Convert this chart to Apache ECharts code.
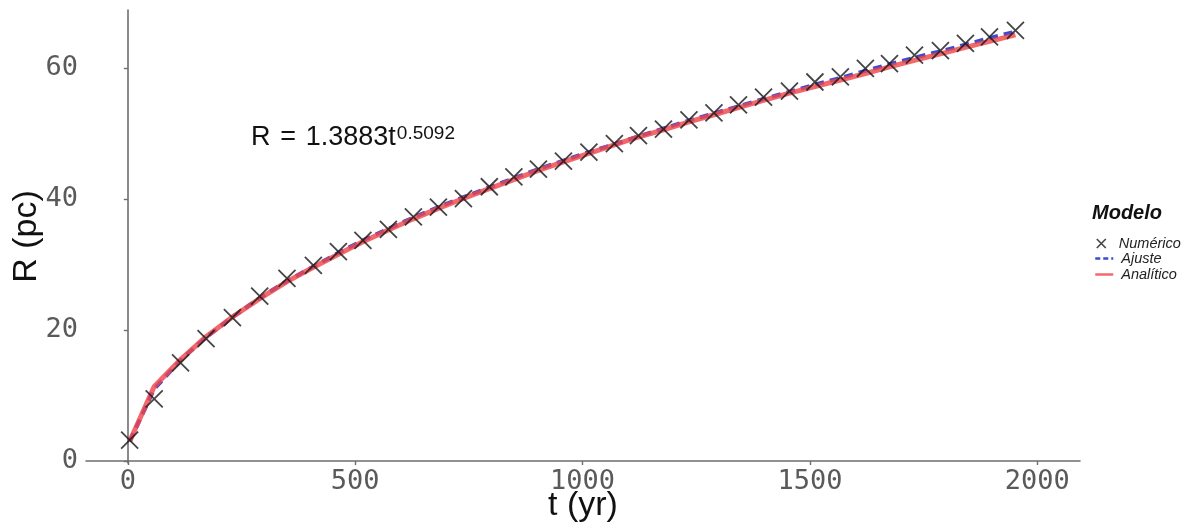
<!DOCTYPE html>
<html>
<head>
<meta charset="utf-8">
<script src="https://cdn.jsdelivr.net/npm/echarts@6/dist/echarts.min.js"></script>
<style>html,body{margin:0;padding:0;background:#fff}#c{width:1192px;height:529px}</style>
</head>
<body>
<div id="c"></div>
<script>
// ---- data ----
const tYears = [4, 58, 116, 172, 230, 290, 350, 408, 463, 517, 573, 628, 683, 738, 795, 849, 903, 958, 1014, 1070, 1123, 1178, 1234, 1289, 1343, 1398, 1455, 1511, 1567, 1622, 1675, 1730, 1787, 1842, 1895, 1952];
const rNumerico = [3.2, 9.5, 15.0, 18.7, 21.9, 25.2, 27.9, 29.9, 32.0, 33.7, 35.4, 37.3, 38.8, 40.1, 41.9, 43.4, 44.6, 45.8, 47.2, 48.5, 49.7, 50.7, 52.1, 53.2, 54.4, 55.6, 56.5, 57.9, 58.7, 60.0, 60.7, 62.0, 62.7, 63.8, 64.8, 65.8];
const rAjuste = [3.0, 11.0, 15.4, 18.9, 22.0, 24.9, 27.5, 29.7, 31.8, 33.7, 35.5, 37.2, 38.8, 40.3, 41.8, 43.2, 44.6, 45.9, 47.2, 48.4, 49.6, 50.8, 52.0, 53.1, 54.2, 55.3, 56.4, 57.5, 58.5, 59.6, 60.6, 61.6, 62.6, 63.6, 64.6, 65.6];
const rAnalitico = [3.0, 11.4, 15.5, 19.0, 22.0, 24.8, 27.4, 29.6, 31.6, 33.5, 35.3, 37.0, 38.6, 40.1, 41.6, 43.0, 44.4, 45.7, 47.0, 48.3, 49.5, 50.6, 51.8, 52.9, 54.0, 55.1, 56.2, 57.2, 58.2, 59.2, 60.2, 61.2, 62.2, 63.2, 64.1, 65.1];
const xTicks = [0, 500, 1000, 1500, 2000];
const yTicks = [0, 20, 40, 60];
const legendTitle = 'Modelo';
const equationMain = 'R \u200A= \u200A1.3883t';
const equationExp = '0.5092';

const pairs = (xs, ys) => xs.map((x, i) => [x, ys[i]]);
const chart = echarts.init(document.getElementById('c'));
const tickLabel = {fontFamily: 'DejaVu Sans Mono', fontSize: 27, color: '#5a5a5a', formatter: v => String(v)};
const axisLine = {show: true, lineStyle: {color: '#6e6e6e', width: 1.6}};
const axisTick = {show: true, length: 4, lineStyle: {color: '#6e6e6e', width: 1.4}};
const xSym = 'path://M0,0L10,10M10,0L0,10';
const legendText = {fontFamily: 'Liberation Sans', fontSize: 14.5, fontStyle: 'italic', color: '#222'};

chart.setOption({
  animation: false,
  backgroundColor: '#fff',
  grid: {left: 86, right: 112, top: 10, bottom: 66, containLabel: false, outerBoundsMode: 'none'},
  title: {
    text: legendTitle, left: 1092, top: 203, padding: 0,
    textStyle: {fontFamily: 'Liberation Sans', fontSize: 20, fontWeight: 'bold', fontStyle: 'italic', color: '#111'}
  },
  legend: [
    {
      data: [{name: 'Numérico', itemStyle: {borderWidth: 1.6, borderColor: '#161616', color: 'rgba(0,0,0,0)'}}],
      orient: 'vertical', left: 1096, top: 236, padding: 0,
      itemWidth: 9, itemHeight: 9,
      textStyle: Object.assign({padding: [0, 0, 0, 8]}, legendText)
    },
    {
      data: [
        {name: 'Ajuste', itemStyle: {opacity: 0}, lineStyle: {type: [5, 3]}},
        {name: 'Analítico', itemStyle: {opacity: 0}}
      ],
      orient: 'vertical', left: 1094, top: 251, padding: 0, itemGap: 1,
      itemWidth: 18, itemHeight: 14,
      lineStyle: {width: 2.5},
      textStyle: Object.assign({padding: [0, 0, 0, 3]}, legendText)
    }
  ],
  xAxis: {
    type: 'value', min: -92, max: 2094,
    name: 't (yr)', nameLocation: 'middle', nameGap: 26, nameMoveOverlap: false,
    nameTextStyle: {fontFamily: 'Liberation Sans', fontSize: 34, color: '#111', verticalAlign: 'top'},
    axisLine: axisLine, axisTick: Object.assign({customValues: xTicks}, axisTick),
    axisLabel: Object.assign({customValues: xTicks, margin: 5}, tickLabel),
    splitLine: {show: false}
  },
  yAxis: {
    type: 'value', min: -0.3, max: 68.9,
    name: 'R (pc)', nameLocation: 'middle', nameGap: 42, nameMoveOverlap: false,
    nameTextStyle: {fontFamily: 'Liberation Sans', fontSize: 34, color: '#111'},
    axisLine: axisLine, axisTick: Object.assign({customValues: yTicks}, axisTick),
    axisLabel: Object.assign({customValues: yTicks, margin: 8}, tickLabel),
    splitLine: {show: false}
  },
  graphic: [
    {
      type: 'text', left: 251, top: 124,
      style: {
        text: '{m|' + equationMain + '}{s|' + equationExp + '}',
        rich: {
          m: {fontFamily: 'Liberation Sans', fontSize: 27, fill: '#111', color: '#111', verticalAlign: 'bottom', padding: [0, 1, 0, 0]},
          s: {fontFamily: 'Liberation Sans', fontSize: 19, fill: '#111', color: '#111', verticalAlign: 'top'}
        }
      }
    }
  ],
  series: [
    {
      name: 'Ajuste', type: 'line', data: pairs(tYears, rAjuste), showSymbol: false, symbol: 'none', z: 2,
      color: '#3a4bd0',
      lineStyle: {color: '#3a4bd0', width: 4, type: [9, 6]}
    },
    {
      name: 'Analítico', type: 'line', data: pairs(tYears, rAnalitico), showSymbol: false, symbol: 'none', z: 3,
      color: '#f0474a',
      lineStyle: {color: '#f0474a', width: 5, opacity: 0.82}
    },
    {
      name: 'Numérico', type: 'scatter', data: pairs(tYears, rNumerico), z: 4,
      symbol: xSym, symbolSize: 17,
      itemStyle: {color: 'rgba(0,0,0,0)', borderColor: '#161616', borderWidth: 1.8}
    }
  ]
});
</script>
</body>
</html>
